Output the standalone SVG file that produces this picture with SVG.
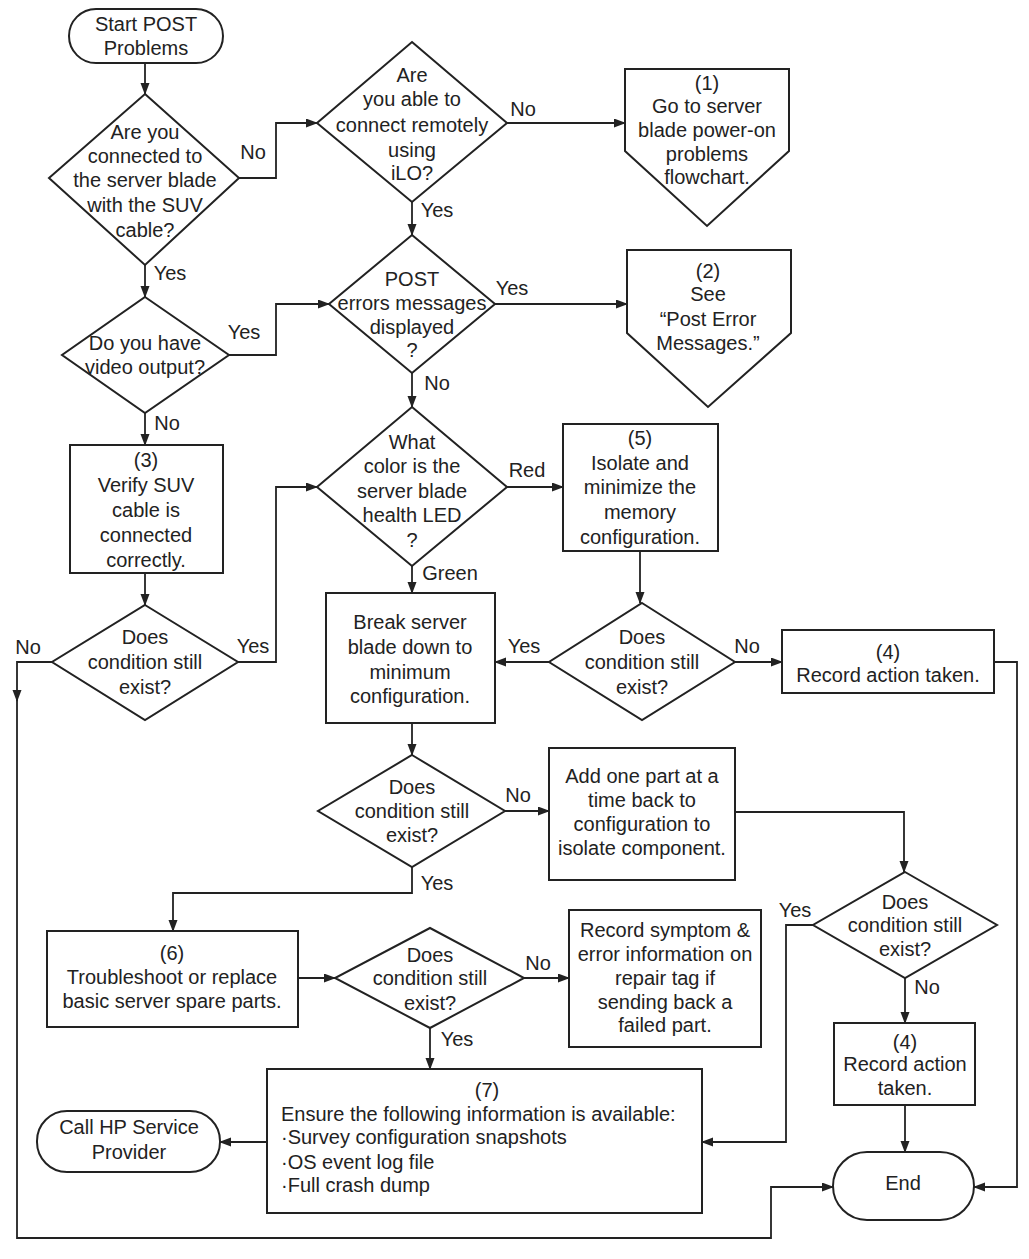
<svg xmlns="http://www.w3.org/2000/svg" width="1029" height="1259" viewBox="0 0 1029 1259">
<style>
.s{fill:#fff;stroke:#222;stroke-width:2}
.c{fill:none;stroke:#222;stroke-width:1.8}
text{font-family:"Liberation Sans",Arial,sans-serif;font-size:20px;fill:#222;text-anchor:middle}
.l{text-anchor:start}
</style>
<defs>
<marker id="a" markerUnits="userSpaceOnUse" markerWidth="12" markerHeight="10" refX="11" refY="4.5" orient="auto"><path d="M0,0 L12,4.5 L0,9 z" fill="#222"/></marker>
</defs>
<rect width="1029" height="1259" fill="#fff"/>
<g id="connectors">
<path class="c" d="M145,63 V94" marker-end="url(#a)"/>
<path class="c" d="M239,178 H276 V123 H317" marker-end="url(#a)"/>
<path class="c" d="M145,265 V297" marker-end="url(#a)"/>
<path class="c" d="M507,123 H625" marker-end="url(#a)"/>
<path class="c" d="M412,202 V235" marker-end="url(#a)"/>
<path class="c" d="M229,355 H276 V304 H329" marker-end="url(#a)"/>
<path class="c" d="M495,304 H627" marker-end="url(#a)"/>
<path class="c" d="M412,373 V407" marker-end="url(#a)"/>
<path class="c" d="M145,413 V445" marker-end="url(#a)"/>
<path class="c" d="M145,573 V605" marker-end="url(#a)"/>
<path class="c" d="M238,662 H276 V487 H317" marker-end="url(#a)"/>
<path class="c" d="M52,662 H17 V701" marker-end="url(#a)"/>
<path class="c" d="M17,698 V1238 H771 V1187 H833" marker-end="url(#a)"/>
<path class="c" d="M507,487 H563" marker-end="url(#a)"/>
<path class="c" d="M412,566 V593" marker-end="url(#a)"/>
<path class="c" d="M640,551 V603" marker-end="url(#a)"/>
<path class="c" d="M549,662 H495" marker-end="url(#a)"/>
<path class="c" d="M735,662 H782" marker-end="url(#a)"/>
<path class="c" d="M994,662 H1017 V1187 H974" marker-end="url(#a)"/>
<path class="c" d="M412,723 V755" marker-end="url(#a)"/>
<path class="c" d="M505,811 H549" marker-end="url(#a)"/>
<path class="c" d="M735,812 H904 V872" marker-end="url(#a)"/>
<path class="c" d="M412,867 V893 H173 V931" marker-end="url(#a)"/>
<path class="c" d="M298,978 H335" marker-end="url(#a)"/>
<path class="c" d="M524,978 H569" marker-end="url(#a)"/>
<path class="c" d="M430,1028 V1069" marker-end="url(#a)"/>
<path class="c" d="M813,925 H786 V1142 H702" marker-end="url(#a)"/>
<path class="c" d="M905,978 V1023" marker-end="url(#a)"/>
<path class="c" d="M905,1105 V1152" marker-end="url(#a)"/>
<path class="c" d="M267,1142 H220" marker-end="url(#a)"/>
<text x="253" y="159">No</text>
<text x="170" y="280">Yes</text>
<text x="244" y="339">Yes</text>
<text x="167" y="430">No</text>
<text x="28" y="654">No</text>
<text x="253" y="653">Yes</text>
<text x="523" y="116">No</text>
<text x="437" y="217">Yes</text>
<text x="512" y="295">Yes</text>
<text x="437" y="390">No</text>
<text x="527" y="477">Red</text>
<text x="450" y="580">Green</text>
<text x="524" y="653">Yes</text>
<text x="747" y="653">No</text>
<text x="518" y="802">No</text>
<text x="437" y="890">Yes</text>
<text x="538" y="970">No</text>
<text x="457" y="1046">Yes</text>
<text x="795" y="917">Yes</text>
<text x="927" y="994">No</text>
</g>
<g id="start">
<rect class="s" x="69" y="9" width="154" height="54" rx="27"/>
<text x="146" y="31">Start POST</text>
<text x="146" y="55">Problems</text>
</g>
<g id="d1">
<path class="s" d="M145,94 L239,178 L145,265 L49,178 Z"/>
<text x="145" y="139">Are you</text>
<text x="145" y="163">connected to</text>
<text x="145" y="187">the server blade</text>
<text x="145" y="212">with the SUV</text>
<text x="145" y="237">cable?</text>
</g>
<g id="d2">
<path class="s" d="M412,42 L507,123 L412,202 L317,123 Z"/>
<text x="412" y="82">Are</text>
<text x="412" y="106">you able to</text>
<text x="412" y="132">connect remotely</text>
<text x="412" y="157">using</text>
<text x="412" y="180">iLO?</text>
</g>
<g id="box1">
<path class="s" d="M625,69 H789 V151 L707,226 L625,151 Z"/>
<text x="707" y="90">(1)</text>
<text x="707" y="113">Go to server</text>
<text x="707" y="137">blade power-on</text>
<text x="707" y="161">problems</text>
<text x="707" y="184">flowchart.</text>
</g>
<g id="box2">
<path class="s" d="M627,250 H791 V333 L708,407 L627,333 Z"/>
<text x="708" y="278">(2)</text>
<text x="708" y="301">See</text>
<text x="708" y="326">“Post Error</text>
<text x="708" y="350">Messages.”</text>
</g>
<g id="d3">
<path class="s" d="M412,235 L495,304 L412,373 L329,304 Z"/>
<text x="412" y="286">POST</text>
<text x="412" y="310">errors messages</text>
<text x="412" y="334">displayed</text>
<text x="412" y="357">?</text>
</g>
<g id="d4">
<path class="s" d="M145,297 L229,355 L145,413 L62,355 Z"/>
<text x="145" y="350">Do you have</text>
<text x="145" y="374">video output?</text>
</g>
<g id="box3">
<rect class="s" x="70" y="445" width="153" height="128"/>
<text x="146" y="467">(3)</text>
<text x="146" y="492">Verify SUV</text>
<text x="146" y="517">cable is</text>
<text x="146" y="542">connected</text>
<text x="146" y="567">correctly.</text>
</g>
<g id="d5">
<path class="s" d="M145,605 L238,662 L145,720 L52,662 Z"/>
<text x="145" y="644">Does</text>
<text x="145" y="669">condition still</text>
<text x="145" y="694">exist?</text>
</g>
<g id="d6">
<path class="s" d="M412,407 L507,487 L412,566 L317,487 Z"/>
<text x="412" y="449">What</text>
<text x="412" y="473">color is the</text>
<text x="412" y="498">server blade</text>
<text x="412" y="522">health LED</text>
<text x="412" y="547">?</text>
</g>
<g id="box5">
<rect class="s" x="563" y="424" width="155" height="127"/>
<text x="640" y="445">(5)</text>
<text x="640" y="470">Isolate and</text>
<text x="640" y="494">minimize the</text>
<text x="640" y="519">memory</text>
<text x="640" y="544">configuration.</text>
</g>
<g id="box-break">
<rect class="s" x="326" y="593" width="169" height="130"/>
<text x="410" y="629">Break server</text>
<text x="410" y="654">blade down to</text>
<text x="410" y="679">minimum</text>
<text x="410" y="703">configuration.</text>
</g>
<g id="d7">
<path class="s" d="M642,603 L735,662 L642,720 L549,662 Z"/>
<text x="642" y="644">Does</text>
<text x="642" y="669">condition still</text>
<text x="642" y="694">exist?</text>
</g>
<g id="box4a">
<rect class="s" x="782" y="630" width="212" height="63"/>
<text x="888" y="659">(4)</text>
<text x="888" y="682">Record action taken.</text>
</g>
<g id="d8">
<path class="s" d="M412,755 L505,811 L412,867 L318,811 Z"/>
<text x="412" y="794">Does</text>
<text x="412" y="818">condition still</text>
<text x="412" y="842">exist?</text>
</g>
<g id="box-add">
<rect class="s" x="549" y="748" width="186" height="132"/>
<text x="642" y="783">Add one part at a</text>
<text x="642" y="807">time back to</text>
<text x="642" y="831">configuration to</text>
<text x="642" y="855">isolate component.</text>
</g>
<g id="d9">
<path class="s" d="M905,872 L997,925 L905,978 L813,925 Z"/>
<text x="905" y="909">Does</text>
<text x="905" y="932">condition still</text>
<text x="905" y="956">exist?</text>
</g>
<g id="box6">
<rect class="s" x="47" y="931" width="251" height="96"/>
<text x="172" y="960">(6)</text>
<text x="172" y="984">Troubleshoot or replace</text>
<text x="172" y="1008">basic server spare parts.</text>
</g>
<g id="d10">
<path class="s" d="M430,928 L524,978 L430,1028 L335,978 Z"/>
<text x="430" y="962">Does</text>
<text x="430" y="985">condition still</text>
<text x="430" y="1010">exist?</text>
</g>
<g id="box-recsym">
<rect class="s" x="569" y="910" width="192" height="137"/>
<text x="665" y="937">Record symptom &amp;</text>
<text x="665" y="961">error information on</text>
<text x="665" y="985">repair tag if</text>
<text x="665" y="1009">sending back a</text>
<text x="665" y="1032">failed part.</text>
</g>
<g id="box4b">
<rect class="s" x="834" y="1023" width="141" height="82"/>
<text x="905" y="1049">(4)</text>
<text x="905" y="1071">Record action</text>
<text x="905" y="1095">taken.</text>
</g>
<g id="box7">
<rect class="s" x="267" y="1069" width="435" height="144"/>
<text x="487" y="1097">(7)</text>
<text class="l" x="281" y="1121">Ensure the following information is available:</text>
<text class="l" x="281" y="1144">·Survey configuration snapshots</text>
<text class="l" x="281" y="1169">·OS event log file</text>
<text class="l" x="281" y="1192">·Full crash dump</text>
</g>
<g id="callhp">
<rect class="s" x="37" y="1111" width="183" height="61" rx="30"/>
<text x="129" y="1134">Call HP Service</text>
<text x="129" y="1159">Provider</text>
</g>
<g id="end">
<rect class="s" x="833" y="1152" width="141" height="68" rx="34"/>
<text x="903" y="1190">End</text>
</g>
</svg>
